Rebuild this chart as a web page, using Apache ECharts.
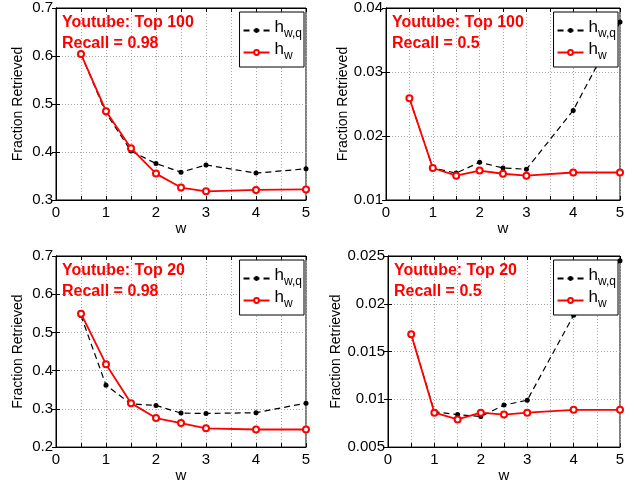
<!DOCTYPE html>
<html>
<head>
<meta charset="utf-8">
<script src="https://cdn.jsdelivr.net/npm/echarts@6/dist/echarts.min.js"></script>
<style>
  html, body { margin: 0; padding: 0; background: #fff; }
  #chart { width: 634px; height: 484px; }
</style>
</head>
<body>
<div id="chart"></div>
<script>
// w values shared by all panels
var wValues = [0.5, 1, 1.5, 2, 2.5, 3, 4, 5];

// Youtube Top 100, Recall = 0.98
var top100R98Hwq = [0.604, 0.481, 0.402, 0.376, 0.358, 0.373, 0.356, 0.365];
var top100R98Hw  = [0.604, 0.485, 0.408, 0.355, 0.326, 0.318, 0.321, 0.322];

// Youtube Top 100, Recall = 0.5
var top100R05Hwq = [0.0259, 0.0150, 0.0142, 0.0159, 0.0150, 0.0148, 0.0240, 0.0378];
var top100R05Hw  = [0.0259, 0.0150, 0.0138, 0.0146, 0.0141, 0.0138, 0.0143, 0.0143];

// Youtube Top 20, Recall = 0.98
var top20R98Hwq = [0.544, 0.362, 0.313, 0.309, 0.289, 0.288, 0.290, 0.315];
var top20R98Hw  = [0.549, 0.417, 0.315, 0.276, 0.263, 0.249, 0.246, 0.246];

// Youtube Top 20, Recall = 0.5
var top20R05Hwq = [0.0168, 0.0087, 0.0084, 0.0082, 0.0094, 0.0099, 0.0188, 0.0245];
var top20R05Hw  = [0.0168, 0.0086, 0.0079, 0.0086, 0.0084, 0.0086, 0.0089, 0.0089];

var panelTitles = ['Youtube: Top 100\nRecall = 0.98', 'Youtube: Top 100\nRecall = 0.5',
                   'Youtube: Top 20\nRecall = 0.98', 'Youtube: Top 20\nRecall = 0.5'];
var yMins = [0.3, 0.01, 0.2, 0.005];
var yMaxs = [0.7, 0.04, 0.7, 0.025];
var yIntervals = [0.1, 0.01, 0.1, 0.005];
var hwqSets = [top100R98Hwq, top100R05Hwq, top20R98Hwq, top20R05Hwq];
var hwSets = [top100R98Hw, top100R05Hw, top20R98Hw, top20R05Hw];

var FONT = "'Liberation Sans', Arial, sans-serif";

// panel boxes in pixels
var boxes = [
  { left: 56, top: 8, width: 250, height: 192, nameGap: 31 },
  { left: 386, top: 8, width: 234, height: 192, nameGap: 31 },
  { left: 56, top: 256, width: 250, height: 192, nameGap: 31 },
  { left: 388, top: 256, width: 232, height: 192, nameGap: 33 }
];

function pairs(ys) {
  return wValues.map(function (w, i) { return [w, ys[i]]; });
}

var grids = [], xAxes = [], yAxes = [], series = [], legends = [], titles = [];

boxes.forEach(function (b, g) {
  grids.push({ left: b.left, top: b.top, width: b.width, height: b.height,
    show: true, borderColor: '#000', borderWidth: 1, backgroundColor: '#fff' });

  var gridLine = { show: true, lineStyle: { color: '#a8a8a8', type: [1, 2], width: 1 } };

  xAxes.push({
    gridIndex: g, type: 'value', min: 0, max: 5, interval: 0.5, position: 'bottom',
    name: 'w', nameLocation: 'middle', nameGap: 13,
    nameTextStyle: { fontFamily: FONT, fontSize: 15, color: '#000' },
    axisLine: { show: true, lineStyle: { color: '#000', width: 1 } },
    axisTick: { show: true, inside: true, length: 4, lineStyle: { color: '#000' } },
    axisLabel: { fontFamily: FONT, fontSize: 15, color: '#000', margin: 5,
      formatter: function (v) { return Number.isInteger(v) ? String(v) : ''; } },
    splitLine: gridLine
  });
  xAxes.push({
    gridIndex: g, type: 'value', min: 0, max: 5, interval: 0.5, position: 'top',
    axisLine: { show: true, lineStyle: { color: '#000', width: 1 } },
    axisTick: { show: true, inside: true, length: 4, lineStyle: { color: '#000' } },
    axisLabel: { show: false }, splitLine: { show: false }
  });

  yAxes.push({
    gridIndex: g, type: 'value', min: yMins[g], max: yMaxs[g], interval: yIntervals[g], position: 'left',
    name: 'Fraction Retrieved', nameLocation: 'middle', nameGap: b.nameGap,
    nameTextStyle: { fontFamily: FONT, fontSize: 14, color: '#000' },
    axisLine: { show: true, lineStyle: { color: '#000', width: 1 } },
    axisTick: { show: true, inside: true, length: 4, lineStyle: { color: '#000' } },
    axisLabel: { fontFamily: FONT, fontSize: 15, color: '#000', margin: 3,
      formatter: function (v) { return String(+v.toFixed(4)); } },
    splitLine: gridLine
  });
  yAxes.push({
    gridIndex: g, type: 'value', min: yMins[g], max: yMaxs[g], interval: yIntervals[g], position: 'right',
    axisLine: { show: true, lineStyle: { color: '#000', width: 1 } },
    axisTick: { show: true, inside: true, length: 4, lineStyle: { color: '#000' } },
    axisLabel: { show: false }, splitLine: { show: false }
  });

  series.push({
    name: 'hwq', type: 'line', xAxisIndex: 2 * g, yAxisIndex: 2 * g,
    data: pairs(hwqSets[g]), symbol: 'circle', symbolSize: 5,
    itemStyle: { color: '#000' },
    lineStyle: { color: '#000', width: 1.2, type: [6, 4] },
    z: 3
  });
  series.push({
    name: 'hw', type: 'line', xAxisIndex: 2 * g, yAxisIndex: 2 * g,
    data: pairs(hwSets[g]), symbol: 'emptyCircle', symbolSize: 6,
    itemStyle: { color: '#ff0000', borderColor: '#ff0000', borderWidth: 1.5 },
    lineStyle: { color: '#ff0000', width: 1.8 },
    z: 4
  });

  legends.push({
    data: ['hwq', 'hw'], orient: 'vertical',
    right: 634 - (b.left + b.width) + 2, top: b.top + 4,
    backgroundColor: '#fff', borderColor: '#000', borderWidth: 1,
    padding: [7, 2, 3, 3], itemGap: -1, itemWidth: 26, itemHeight: 6,
    formatter: function (name) {
      return name === 'hwq' ? '{m|h}{s|w,q}' : '{m|h}{s|w}';
    },
    textStyle: {
      fontFamily: FONT, color: '#000',
      rich: {
        m: { fontFamily: FONT, fontSize: 17, lineHeight: 16, color: '#000', padding: [0, 0, 6, 0] },
        s: { fontFamily: FONT, fontSize: 12, lineHeight: 13, color: '#000', padding: [7, 0, 0, 0] }
      }
    }
  });

  titles.push({
    text: panelTitles[g], left: b.left + 1, top: b.top - 1,
    textStyle: { fontFamily: FONT, fontSize: 16, fontWeight: 'bold', color: '#ff0000', lineHeight: 21 }
  });
});

var chart = echarts.init(document.getElementById('chart'));
chart.setOption({
  animation: false,
  backgroundColor: '#fff',
  title: titles,
  legend: legends,
  grid: grids,
  xAxis: xAxes,
  yAxis: yAxes,
  series: series
});
</script>
</body>
</html>
